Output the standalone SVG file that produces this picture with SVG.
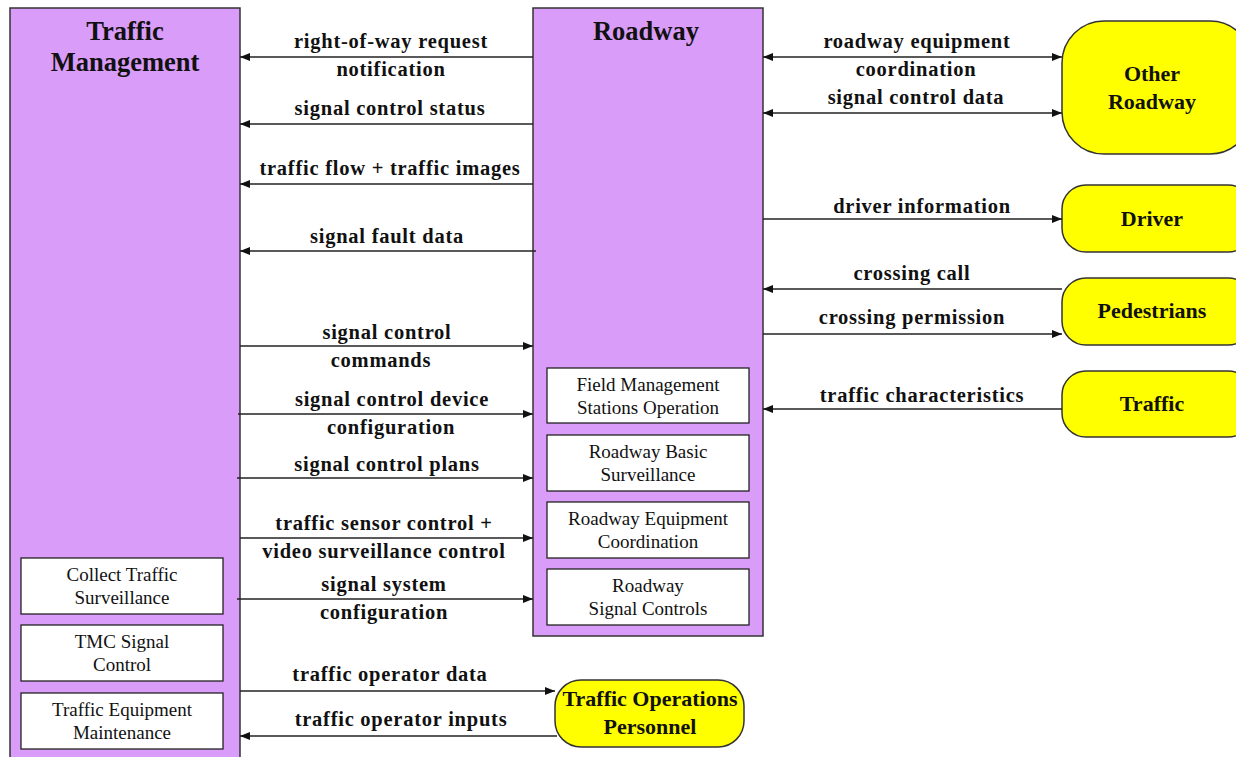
<svg xmlns="http://www.w3.org/2000/svg" width="1236" height="757" viewBox="0 0 1236 757">
<style>
.big{fill:#D99CF9;stroke:#333;stroke-width:1.5}
.sub{fill:#fff;stroke:#222;stroke-width:1.3}
.ext{fill:#FFFF00;stroke:#333;stroke-width:1.5}
.t{font-family:'Liberation Serif',Tinos,'Times New Roman','DejaVu Serif',serif;fill:#111;text-anchor:middle}
.title{font-size:26.5px;font-weight:bold}
.ext-t{font-size:22px;font-weight:bold}
.sub-t{font-size:19px}
.lbl{font-size:20.5px;font-weight:bold;letter-spacing:0.75px}
.c{stroke:#222;stroke-width:1.5;fill:none}
</style>
<defs>
<marker id="ah" viewBox="0 0 10 8" refX="10" refY="4" markerWidth="10" markerHeight="8" markerUnits="userSpaceOnUse" orient="auto-start-reverse">
<path d="M0,0 L10,4 L0,8 Z" fill="#111"/>
</marker>
</defs>
<rect width="1236" height="757" fill="#fff"/>

<g id="traffic-management">
<rect class="big" x="10" y="8" width="230" height="760"/>
<text class="t title" x="125" y="40">Traffic</text>
<text class="t title" x="125" y="71">Management</text>
</g>
<g id="collect-traffic-surveillance">
<rect class="sub" x="21" y="558" width="202" height="56"/>
<text class="t sub-t" x="122" y="581">Collect Traffic</text>
<text class="t sub-t" x="122" y="604">Surveillance</text>
</g>
<g id="tmc-signal-control">
<rect class="sub" x="21" y="625" width="202" height="56"/>
<text class="t sub-t" x="122" y="648">TMC Signal</text>
<text class="t sub-t" x="122" y="671">Control</text>
</g>
<g id="traffic-equipment-maintenance">
<rect class="sub" x="21" y="693" width="202" height="56"/>
<text class="t sub-t" x="122" y="716">Traffic Equipment</text>
<text class="t sub-t" x="122" y="739">Maintenance</text>
</g>

<g id="roadway">
<rect class="big" x="533" y="8" width="230" height="628"/>
<text class="t title" x="646" y="40">Roadway</text>
</g>
<g id="field-management-stations-operation">
<rect class="sub" x="547" y="368" width="202" height="55"/>
<text class="t sub-t" x="648" y="391">Field Management</text>
<text class="t sub-t" x="648" y="414">Stations Operation</text>
</g>
<g id="roadway-basic-surveillance">
<rect class="sub" x="547" y="435" width="202" height="56"/>
<text class="t sub-t" x="648" y="458">Roadway Basic</text>
<text class="t sub-t" x="648" y="481">Surveillance</text>
</g>
<g id="roadway-equipment-coordination">
<rect class="sub" x="547" y="502" width="202" height="56"/>
<text class="t sub-t" x="648" y="525">Roadway Equipment</text>
<text class="t sub-t" x="648" y="548">Coordination</text>
</g>
<g id="roadway-signal-controls">
<rect class="sub" x="547" y="569" width="202" height="56"/>
<text class="t sub-t" x="648" y="592">Roadway</text>
<text class="t sub-t" x="648" y="615">Signal Controls</text>
</g>

<g id="other-roadway">
<rect class="ext" x="1062" y="21" width="190" height="133" rx="42" ry="42"/>
<text class="t ext-t" x="1152" y="81">Other</text>
<text class="t ext-t" x="1152" y="109">Roadway</text>
</g>
<g id="driver">
<rect class="ext" x="1062" y="185" width="190" height="67" rx="24" ry="24"/>
<text class="t ext-t" x="1152" y="226">Driver</text>
</g>
<g id="pedestrians">
<rect class="ext" x="1062" y="278" width="190" height="67" rx="24" ry="24"/>
<text class="t ext-t" x="1152" y="318">Pedestrians</text>
</g>
<g id="traffic">
<rect class="ext" x="1062" y="371" width="190" height="66" rx="24" ry="24"/>
<text class="t ext-t" x="1152" y="411">Traffic</text>
</g>
<g id="traffic-operations-personnel">
<rect class="ext" x="555" y="680" width="189" height="67" rx="26" ry="26"/>
<text class="t ext-t" x="650" y="706">Traffic Operations</text>
<text class="t ext-t" x="650" y="734">Personnel</text>
</g>

<g id="connectors">
<line class="c" x1="533" y1="57" x2="240" y2="57" marker-end="url(#ah)"/>
<line class="c" x1="533" y1="124" x2="240" y2="124" marker-end="url(#ah)"/>
<line class="c" x1="533" y1="184" x2="240" y2="184" marker-end="url(#ah)"/>
<line class="c" x1="536" y1="251" x2="240" y2="251" marker-end="url(#ah)"/>
<line class="c" x1="240" y1="346" x2="533" y2="346" marker-end="url(#ah)"/>
<line class="c" x1="238" y1="414" x2="533" y2="414" marker-end="url(#ah)"/>
<line class="c" x1="237" y1="478" x2="533" y2="478" marker-end="url(#ah)"/>
<line class="c" x1="240" y1="538" x2="533" y2="538" marker-end="url(#ah)"/>
<line class="c" x1="237" y1="599" x2="533" y2="599" marker-end="url(#ah)"/>
<line class="c" x1="240" y1="691" x2="555" y2="691" marker-end="url(#ah)"/>
<line class="c" x1="557" y1="736" x2="240" y2="736" marker-end="url(#ah)"/>
<line class="c" x1="763" y1="57" x2="1062" y2="57" marker-start="url(#ah)" marker-end="url(#ah)"/>
<line class="c" x1="763" y1="113" x2="1062" y2="113" marker-start="url(#ah)" marker-end="url(#ah)"/>
<line class="c" x1="763" y1="219" x2="1062" y2="219" marker-end="url(#ah)"/>
<line class="c" x1="1062" y1="289" x2="763" y2="289" marker-end="url(#ah)"/>
<line class="c" x1="763" y1="334" x2="1062" y2="334" marker-end="url(#ah)"/>
<line class="c" x1="1062" y1="409" x2="763" y2="409" marker-end="url(#ah)"/>

<text class="t lbl" x="391" y="48">right-of-way request</text>
<text class="t lbl" x="391" y="76">notification</text>
<text class="t lbl" x="390" y="115">signal control status</text>
<text class="t lbl" x="390" y="175">traffic flow + traffic images</text>
<text class="t lbl" x="387" y="243">signal fault data</text>
<text class="t lbl" x="387" y="339">signal control</text>
<text class="t lbl" x="381" y="367">commands</text>
<text class="t lbl" x="392" y="406">signal control device</text>
<text class="t lbl" x="391" y="434">configuration</text>
<text class="t lbl" x="387" y="471">signal control plans</text>
<text class="t lbl" x="384" y="530">traffic sensor control +</text>
<text class="t lbl" x="384" y="558">video surveillance control</text>
<text class="t lbl" x="384" y="591">signal system</text>
<text class="t lbl" x="384" y="619">configuration</text>
<text class="t lbl" x="390" y="681">traffic operator data</text>
<text class="t lbl" x="401" y="726">traffic operator inputs</text>
<text class="t lbl" x="917" y="48">roadway equipment</text>
<text class="t lbl" x="916" y="76">coordination</text>
<text class="t lbl" x="916" y="104">signal control data</text>
<text class="t lbl" x="922" y="213">driver information</text>
<text class="t lbl" x="912" y="280">crossing call</text>
<text class="t lbl" x="912" y="324">crossing permission</text>
<text class="t lbl" x="922" y="402">traffic characteristics</text>
</g>
</svg>
